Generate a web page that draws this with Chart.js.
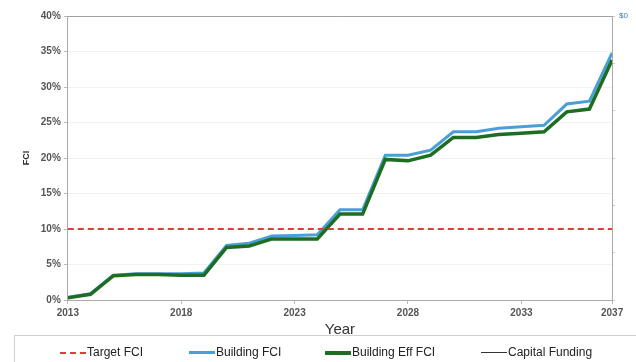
<!DOCTYPE html>
<html>
<head>
<meta charset="utf-8">
<script src="https://cdn.jsdelivr.net/npm/chart.js@4"></script>
<style>
  body { margin: 0; background: #fff; font-family: "Liberation Sans", Arial, sans-serif; }
  #wrap { position: relative; width: 636px; height: 362px; }
  #legenda { position: absolute; left: 14px; top: 335px; width: 640px; height: 40px;
             border: 1px solid #d0d0d0; box-sizing: border-box; }
  .poz { position: absolute; top: 9px; font-size: 12px; color: #222; white-space: nowrap; }
  .kreska { display: inline-block; width: 26px; vertical-align: middle; margin-right: 1px; }
</style>
</head>
<body>
<div id="wrap">
  <canvas id="wykres" width="636" height="362"></canvas>
  <div id="legenda"></div>
</div>
<script>
const lata = [2013,2014,2015,2016,2017,2018,2019,2020,2021,2022,2023,2024,2025,
              2026,2027,2028,2029,2030,2031,2032,2033,2034,2035,2036,2037];
const etykietyLat = [2013, 2018, 2023, 2028, 2033, 2037];
const targetFCI = [10,10,10,10,10,10,10,10,10,10,10,10,10,10,10,10,10,10,10,10,10,10,10,10,10];
const buildingFCI = [0.4,0.9,3.5,3.7,3.7,3.7,3.8,7.7,8.0,9.0,9.1,9.2,12.7,12.7,20.4,20.4,21.1,23.7,23.7,24.2,24.4,24.6,27.6,28.0,34.8];
const buildingEffFCI = [0.3,0.8,3.4,3.6,3.6,3.5,3.5,7.4,7.6,8.6,8.6,8.6,12.1,12.1,19.8,19.6,20.4,22.9,22.9,23.3,23.5,23.7,26.5,26.9,33.8];
const capitalFunding = [0,0,0,0,0,0,0,0,0,0,0,0,0,0,0,0,0,0,0,0,0,0,0,0,0];

const punkty = arr => arr.map((v, i) => ({x: lata[i], y: v}));
Chart.defaults.font.family = '"Liberation Sans", Arial, sans-serif';
Chart.defaults.color = '#444';

var wykres = new Chart(document.getElementById("wykres").getContext("2d"), {
  type: 'line',
  data: {
    datasets: [
      {label: 'Target FCI', data: punkty(targetFCI), borderColor: '#d9403c', borderWidth: 2,
       borderDash: [6, 4], pointRadius: 0, yAxisID: 'y', order: 0},
      {label: 'Building FCI', data: punkty(buildingFCI), borderColor: '#4a9fd8', borderWidth: 3,
       pointRadius: 0, yAxisID: 'y', order: 2},
      {label: 'Building Eff FCI', data: punkty(buildingEffFCI), borderColor: '#1d6e22', borderWidth: 3.5,
       pointRadius: 0, yAxisID: 'y', order: 1},
      {label: 'Capital Funding', data: punkty(capitalFunding), borderColor: '#999', borderWidth: 1,
       pointRadius: 0, yAxisID: 'y2', order: 3}
    ]
  },
  options: {
    responsive: false,
    animation: false,
    layout: {padding: {top: 16, left: 21, right: 4, bottom: 25}},
    scales: {
      x: {
        type: 'linear', min: 2013, max: 2037,
        afterBuildTicks: s => { s.ticks = etykietyLat.map(v => ({value: v})); },
        ticks: {font: {size: 10, weight: 'bold'}, color: '#555', maxRotation: 0, padding: 3,
                callback: v => String(v)},
        grid: {drawOnChartArea: false, tickLength: 4, color: '#bbb'},
        border: {color: '#aaa'},
        title: {display: true, text: 'Year', font: {size: 15, lineHeight: 1}, color: '#333', padding: {top: 0, bottom: 0}}
      },
      y: {
        min: 0, max: 40,
        ticks: {stepSize: 5, font: {size: 10, weight: 'bold'}, color: '#555', padding: 3,
                callback: v => v + '%'},
        grid: {color: c => c.tick.value === 40 ? '#aaa' : '#f2f2f2', tickColor: '#bbb', tickLength: 4},
        border: {color: '#aaa'},
        title: {display: true, text: 'FCI', font: {size: 9, weight: 'bold'}, color: '#333', padding: {top: 0, bottom: 6}}
      },
      y2: {
        position: 'right', min: -6, max: 0,
        ticks: {stepSize: 1, font: {size: 8}, color: '#3b78b6', padding: 4,
                callback: v => v === 0 ? '$0' : ''},
        grid: {drawOnChartArea: false, tickLength: 3, color: '#ccc'},
        border: {color: '#aaa'}
      }
    },
    plugins: {
      legend: {display: false},
      tooltip: {enabled: false}
    }
  }
});

// legenda pod wykresem
const pozycjeLegendy = [45, 174, 310, 466];
const legenda = document.getElementById('legenda');
wykres.data.datasets.forEach((ds, i) => {
  const el = document.createElement('div');
  el.className = 'poz';
  el.style.left = pozycjeLegendy[i] + 'px';
  const k = document.createElement('span');
  k.className = 'kreska';
  k.style.borderTop = Math.max(1, Math.round(ds.borderWidth)) + 'px ' + (ds.borderDash ? 'dashed ' : 'solid ') + (i === 3 ? '#333' : ds.borderColor);
  el.appendChild(k);
  el.appendChild(document.createTextNode(ds.label));
  legenda.appendChild(el);
});
</script>
</body>
</html>
